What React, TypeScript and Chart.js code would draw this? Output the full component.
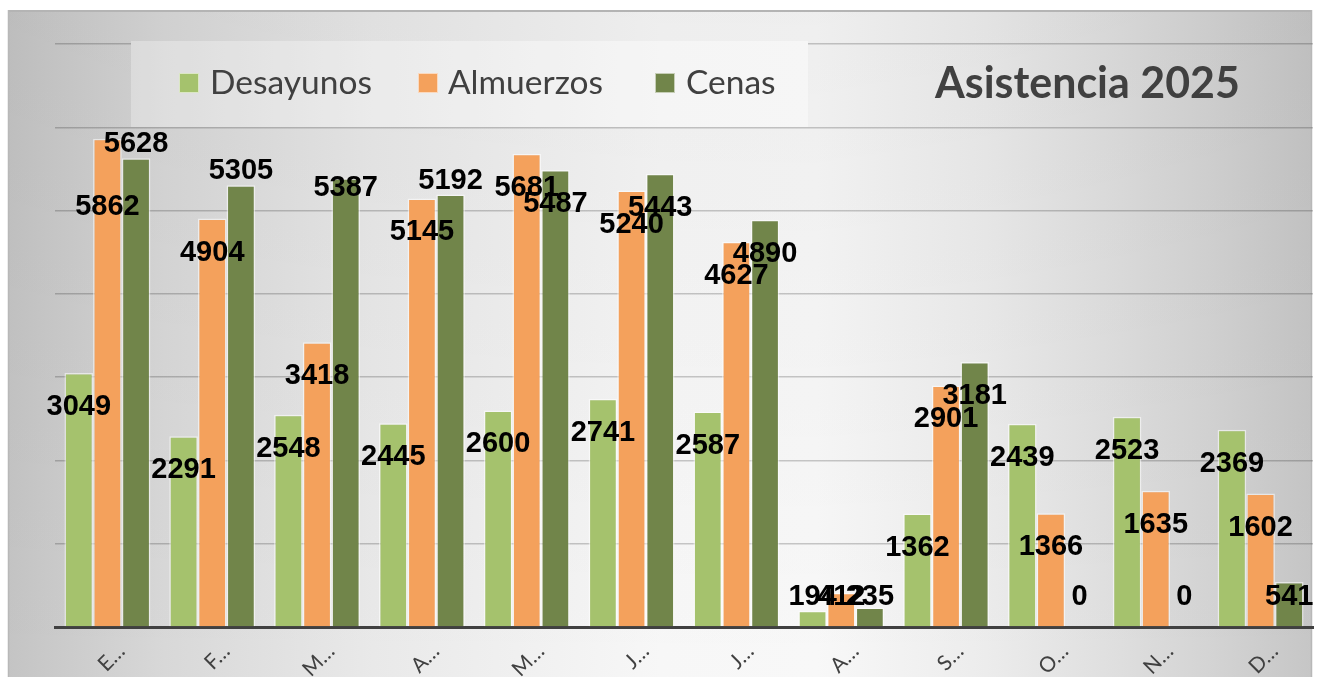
import React, { useEffect, useRef } from "react";
import { Chart, registerables } from "chart.js";

Chart.register(...registerables);

const months = ["Enero", "Febrero", "Marzo", "Abril", "Mayo", "Junio", "Julio", "Agosto", "Septiembre", "Octubre", "Noviembre", "Diciembre"];
const seriesNames = ["Desayunos", "Almuerzos", "Cenas"];
const desayunos = [3049, 2291, 2548, 2445, 2600, 2741, 2587, 194, 1362, 2439, 2523, 2369];
const almuerzos = [5862, 4904, 3418, 5145, 5681, 5240, 4627, 412, 2901, 1366, 1635, 1602];
const cenas = [5628, 5305, 5387, 5192, 5487, 5443, 4890, 235, 3181, 0, 0, 541];
const chartTitle = "Asistencia 2025";
const yMax = 7000;
const yStep = 1000;

// data-label anchoring (like datalabels' anchor option), per point
const desayunosLabelAnchor = months.map(() => "inside");
const almuerzosLabelAnchor = ["deep", "inside", "inside", "inside", "inside", "inside", "inside", "inside", "inside", "inside", "inside", "inside"];
const cenasLabelAnchor = ["above", "above", "edge", "above", "inside", "inside", "inside", "inside", "inside", "inside", "inside", "inside"];

const colors = ["#A5C26D", "#F4A15C", "#71854A"];
const TEXT = "#404040";

const W = 1320;
const H = 677;

function fitSize(ctx: CanvasRenderingContext2D, text: string, weight: string, family: string, target: number) {
  ctx.font = `${weight} 100px ${family}`;
  const w = ctx.measureText(text).width;
  return (100 * target) / w;
}

function panelGradient(ctx: CanvasRenderingContext2D) {
  const g = ctx.createLinearGradient(8, 0, 1312, 0);
  g.addColorStop(0, "#c4c4c4");
  g.addColorStop(0.12, "#d8d8d8");
  g.addColorStop(0.28, "#e9e9e9");
  g.addColorStop(0.5, "#f7f7f7");
  g.addColorStop(0.62, "#f8f8f8");
  g.addColorStop(0.75, "#ececec");
  g.addColorStop(0.84, "#e0e0e0");
  g.addColorStop(0.92, "#d4d4d4");
  g.addColorStop(1, "#c6c6c6");
  return g;
}

const backgroundPlugin = {
  id: "bgPanel",
  beforeDraw(chart: any) {
    const ctx = chart.ctx as CanvasRenderingContext2D;
    ctx.save();
    ctx.fillStyle = "#ffffff";
    ctx.fillRect(0, 0, W, H);
    ctx.fillStyle = panelGradient(ctx);
    ctx.fillRect(8, 10, 1304, H - 10);
    const v = ctx.createLinearGradient(0, 10, 0, H);
    v.addColorStop(0, "rgba(0,0,0,0.04)");
    v.addColorStop(1, "rgba(0,0,0,0)");
    ctx.fillStyle = v;
    ctx.fillRect(8, 10, 1304, H - 10);
    ctx.strokeStyle = "#b4b4b4";
    ctx.lineWidth = 2;
    ctx.beginPath();
    ctx.moveTo(8, 11);
    ctx.lineTo(1312, 11);
    ctx.stroke();
    ctx.lineWidth = 1.5;
    ctx.strokeStyle = "#b8b8b8";
    ctx.beginPath();
    ctx.moveTo(8.5, 10);
    ctx.lineTo(8.5, H);
    ctx.moveTo(1311.5, 10);
    ctx.lineTo(1311.5, H);
    ctx.stroke();
    ctx.restore();
  },
  beforeDatasetsDraw(chart: any) {
    // legend box
    const ctx = chart.ctx as CanvasRenderingContext2D;
    ctx.save();
    ctx.fillStyle = panelGradient(ctx);
    ctx.fillRect(131, 41, 677, 86);
    ctx.fillStyle = "rgba(0,0,0,0.02)";
    ctx.fillRect(131, 41, 677, 86);
    ctx.fillStyle = "rgba(255,255,255,0.25)";
    ctx.fillRect(131, 41, 677, 86);
    ctx.restore();
  },
  afterDraw(chart: any) {
    const ctx = chart.ctx as CanvasRenderingContext2D;
    ctx.save();
    // legend
    const fam = "Lato, 'Open Sans', sans-serif";
    const size = fitSize(ctx, seriesNames[0], "normal", fam, 162);
    ctx.font = `normal ${size}px ${fam}`;
    ctx.textBaseline = "alphabetic";
    ctx.textAlign = "left";
    const markerX = [179, 418, 655];
    const textX = [210, 448, 686];
    seriesNames.forEach((name, i) => {
      ctx.fillStyle = colors[i];
      ctx.fillRect(markerX[i], 73, 20, 20);
      ctx.strokeStyle = "rgba(255,255,255,0.6)";
      ctx.lineWidth = 1;
      ctx.strokeRect(markerX[i] + 0.5, 73.5, 19, 19);
      ctx.fillStyle = TEXT;
      ctx.fillText(name, textX[i], 94);
    });
    // title
    const tf = "Lato, 'Open Sans', sans-serif";
    const ts = fitSize(ctx, chartTitle, "bold", tf, 305);
    ctx.font = `bold ${ts}px ${tf}`;
    ctx.fillStyle = TEXT;
    ctx.fillText(chartTitle, 935, 98);
    ctx.restore();
  },
};

const offsets: Record<string, number> = { inside: 32, deep: 66, above: -16, edge: 8 };
const anchors = [desayunosLabelAnchor, almuerzosLabelAnchor, cenasLabelAnchor];

const dataLabelPlugin = {
  id: "valueLabels",
  afterDatasetsDraw(chart: any) {
    const ctx = chart.ctx as CanvasRenderingContext2D;
    const yScale = chart.scales.y;
    const baseY = yScale.getPixelForValue(0);
    ctx.save();
    ctx.font = "bold 29px 'Liberation Sans', Arial, sans-serif";
    ctx.fillStyle = "#000000";
    ctx.textAlign = "center";
    ctx.textBaseline = "alphabetic";
    chart.data.datasets.forEach((ds: any, di: number) => {
      const meta = chart.getDatasetMeta(di);
      meta.data.forEach((bar: any, i: number) => {
        const v = ds.data[i];
        let cy = bar.y + offsets[anchors[di][i]];
        cy = Math.min(cy, baseY - 32);
        ctx.fillText(String(v), bar.x, cy + 10);
      });
    });
    ctx.restore();
  },
};

export default function App() {
  const ref = useRef<HTMLCanvasElement | null>(null);
  useEffect(() => {
    if (!ref.current) return;
    const chart = new Chart(ref.current, {
      type: "bar",
      data: {
        labels: months,
        datasets: [desayunos, almuerzos, cenas].map((d, i) => ({
          label: seriesNames[i],
          data: d,
          backgroundColor: colors[i],
          borderColor: "rgba(255,255,255,0.55)",
          borderWidth: 1.5,
          barPercentage: 1,
          categoryPercentage: 0.82,
        })),
      },
      options: {
        animation: false,
        responsive: false,
        devicePixelRatio: 1,
        layout: { padding: { left: 55, right: 7, top: 44, bottom: 0 } },
        plugins: {
          legend: { display: false },
          title: { display: false },
          tooltip: { enabled: false },
        },
        scales: {
          x: {
            grid: { display: false, drawTicks: false },
            border: { display: true, color: "#404040", width: 3 },
            ticks: {
              minRotation: 45,
              maxRotation: 45,
              autoSkip: false,
              padding: 12,
              labelOffset: 14,
              color: TEXT,
              font: { family: "Lato, 'Open Sans', sans-serif", size: 21 },
              callback: (_v: any, i: number) => months[i].charAt(0) + "…",
            },
            afterFit: (s: any) => {
              s.height = 50;
            },
          },
          y: {
            min: 0,
            max: yMax,
            ticks: { display: false, stepSize: yStep },
            grid: { color: "rgba(0,0,0,0.2)", lineWidth: 1.5, drawTicks: false },
            border: { display: false },
            afterFit: (s: any) => {
              s.width = 0;
            },
          },
        },
      } as any,
      plugins: [backgroundPlugin, dataLabelPlugin],
    });
    return () => chart.destroy();
  }, []);
  return (
    <div style={{ position: "fixed", left: 0, top: 0, width: W, height: H }}>
      <canvas ref={ref} width={W} height={H} style={{ width: W, height: H, display: "block" }} />
    </div>
  );
}
